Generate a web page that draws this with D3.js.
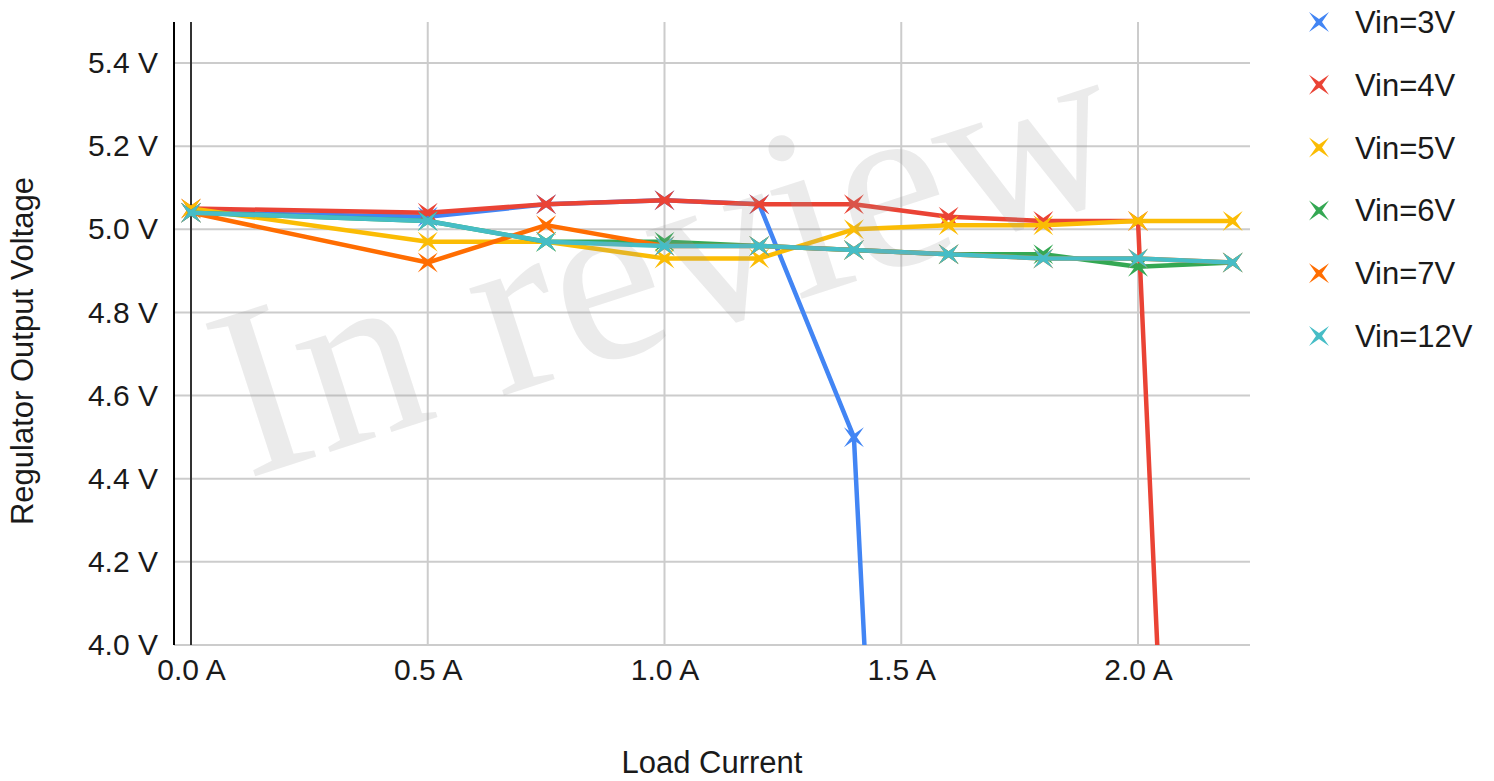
<!DOCTYPE html>
<html><head><meta charset="utf-8">
<script src="https://cdn.jsdelivr.net/npm/d3@7"></script>
<style>body{margin:0;background:#fff;} svg{display:block;font-family:"Liberation Sans",Arial,sans-serif;}</style>
</head><body>
<svg id="c" width="1494" height="781"></svg>
<script>
const currents = [0, 0.5, 0.75, 1.0, 1.2, 1.4, 1.6, 1.8, 2.0, 2.2];
const vin3  = [5.04, 5.03, 5.06, 5.07, 5.06, 4.50, 0, null, null, null];
const vin4  = [5.05, 5.04, 5.06, 5.07, 5.06, 5.06, 5.03, 5.02, 5.02, 0];
const vin5  = [5.05, 4.97, 4.97, 4.93, 4.93, 5.00, 5.01, 5.01, 5.02, 5.02];
const vin6  = [5.04, 5.02, 4.97, 4.97, 4.96, 4.95, 4.94, 4.94, 4.91, 4.92];
const vin7  = [5.04, 4.92, 5.01, 4.96, 4.96, 4.95, 4.94, 4.93, 4.93, 4.92];
const vin12 = [5.04, 5.02, 4.97, 4.96, 4.96, 4.95, 4.94, 4.93, 4.93, 4.92];
const seriesNames = ["Vin=3V","Vin=4V","Vin=5V","Vin=6V","Vin=7V","Vin=12V"];
const seriesColors = ["#4285F4","#EA4335","#FBBC04","#34A853","#FF6D01","#46BDC6"];
const seriesValues = [vin3, vin4, vin5, vin6, vin7, vin12];
const xTicks = [0, 0.5, 1.0, 1.5, 2.0];
const yTicks = [4.0, 4.2, 4.4, 4.6, 4.8, 5.0, 5.2, 5.4];

const svg = d3.select("#c");
const x = d3.scaleLinear().domain([0, 2.0]).range([191, 1138]);
const y = d3.scaleLinear().domain([4.0, 5.4]).range([645, 63]);
const pLeft = 174, pRight = 1250, pTop = 22, pBottom = 645;

const grid = svg.append("g");
grid.selectAll("line.h").data(yTicks).join("line")
  .attr("x1", pLeft).attr("x2", pRight)
  .attr("y1", d => y(d)).attr("y2", d => y(d))
  .attr("stroke", "#cccccc").attr("stroke-width", 2);
grid.selectAll("line.v").data(xTicks.filter(d => d > 0)).join("line")
  .attr("x1", d => x(d)).attr("x2", d => x(d))
  .attr("y1", pTop).attr("y2", pBottom)
  .attr("stroke", "#cccccc").attr("stroke-width", 2);
svg.append("line").attr("x1", x(0)).attr("x2", x(0)).attr("y1", pTop).attr("y2", pBottom)
  .attr("stroke", "#333").attr("stroke-width", 2);
svg.append("line").attr("x1", pLeft).attr("x2", pLeft).attr("y1", pTop).attr("y2", pBottom)
  .attr("stroke", "#000").attr("stroke-width", 2);

const yAxis = svg.append("g").attr("transform", `translate(${pLeft},0)`)
  .call(d3.axisLeft(y).tickValues(yTicks).tickFormat(d => d3.format(".1f")(d) + " V").tickSize(0).tickPadding(16));
yAxis.select(".domain").remove();
yAxis.selectAll("text").attr("font-size", 30).attr("fill", "#1a1a1a").attr("font-family", "Liberation Sans, Arial, sans-serif");
const xAxis = svg.append("g").attr("transform", `translate(0,${pBottom})`)
  .call(d3.axisBottom(x).tickValues(xTicks).tickFormat(d => d3.format(".1f")(d) + " A").tickSize(0).tickPadding(14));
xAxis.select(".domain").remove();
xAxis.selectAll("text").attr("font-size", 30).attr("fill", "#1a1a1a").attr("font-family", "Liberation Sans, Arial, sans-serif");

svg.append("text").attr("x", 712).attr("y", 773).attr("text-anchor", "middle")
  .attr("font-size", 31).attr("fill", "#1a1a1a").text("Load Current");
svg.append("text").attr("transform", "translate(33,351) rotate(-90)").attr("text-anchor", "middle")
  .attr("font-size", 31).attr("fill", "#1a1a1a").text("Regulator Output Voltage");

svg.append("clipPath").attr("id", "plot").append("rect")
  .attr("x", pLeft).attr("y", pTop).attr("width", pRight - pLeft).attr("height", pBottom - pTop);

const star = (r, ri) => `M${-r},${-r}L0,${-ri}L${r},${-r}L${ri},0L${r},${r}L0,${ri}L${-r},${r}L${-ri},0Z`;

const plot = svg.append("g").attr("clip-path", "url(#plot)");
const line = d3.line().defined(d => d[1] !== null).x(d => x(d[0])).y(d => y(d[1]));
seriesValues.forEach((vals, i) => {
  const pts = currents.map((c, j) => [c, vals[j]]);
  const g = plot.append("g");
  g.append("path").attr("d", line(pts)).attr("fill", "none")
    .attr("stroke", seriesColors[i]).attr("stroke-width", 4.5).attr("stroke-linejoin", "round");
  g.selectAll("path.m").data(pts.filter(d => d[1] !== null)).join("path")
    .attr("d", star(10, 3)).attr("transform", d => `translate(${x(d[0])},${y(d[1])})`)
    .attr("fill", seriesColors[i]);
});

const leg = svg.append("g");
seriesNames.forEach((n, i) => {
  const cy = 22 + i * 62.8;
  leg.append("path").attr("d", star(10, 3)).attr("transform", `translate(1319,${cy})`).attr("fill", seriesColors[i]);
  leg.append("text").attr("x", 1355).attr("y", cy + 11).attr("font-size", 31).attr("fill", "#1a1a1a").text(n);
});

svg.append("text").attr("transform", "translate(690,335) rotate(-18)").attr("text-anchor", "middle")
  .attr("font-family", "Liberation Serif, Times New Roman, serif").attr("font-size", 245)
  .attr("fill", "#999").attr("fill-opacity", 0.2).text("In review");
</script>
</body></html>
